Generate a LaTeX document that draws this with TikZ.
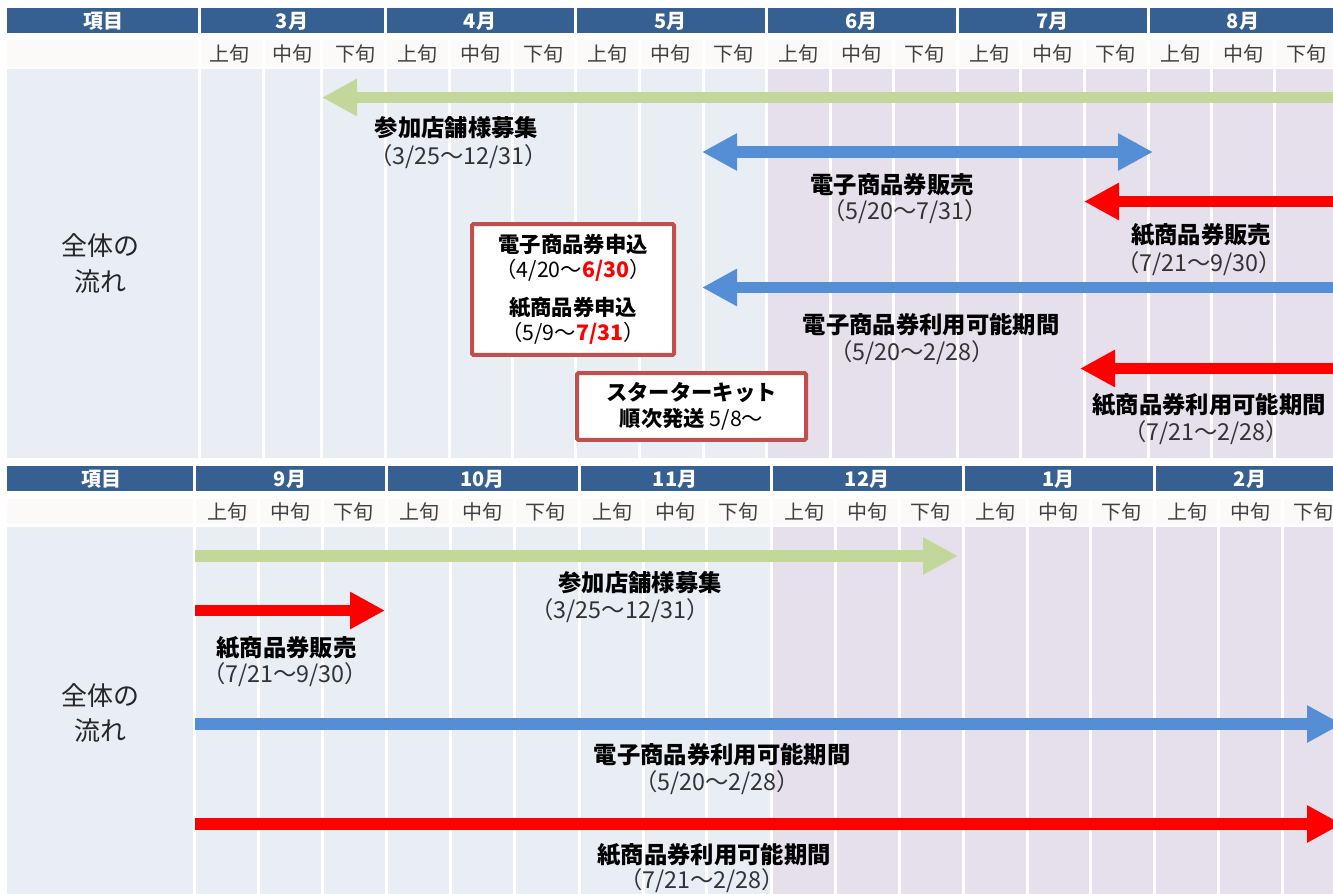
\documentclass[tikz,border=0pt]{standalone}
\usepackage{fontspec}
\setmainfont{Noto Sans CJK JP}
\usepackage{xcolor}
\usetikzlibrary{arrows.meta}

\definecolor{headblue}{HTML}{366092}
\definecolor{subrow}{HTML}{FBFAF8}
\definecolor{bodyblue}{HTML}{E9EDF4}
\definecolor{bodyviolet}{HTML}{E5E0EC}
\definecolor{bargreen}{HTML}{C4D79B}
\definecolor{barblue}{HTML}{558ED5}
\definecolor{barred}{HTML}{FF0000}
\definecolor{boxred}{HTML}{C0504D}
\definecolor{subgray}{HTML}{404040}

\tikzset{
  headtext/.style={text=white, font=\fontsize{15pt}{17pt}\selectfont\bfseries},
  subtext/.style={text=subgray, font=\fontsize{15pt}{17pt}\selectfont},
  rowtext/.style={text=black!85, align=center, font=\fontsize{19.5pt}{26.5pt}\selectfont},
  bartitle/.style={text=black, font=\fontsize{17.5pt}{21pt}\selectfont\bfseries},
  bardate/.style={text=black!80, font=\fontsize{17.5pt}{21pt}\selectfont},
  bar/.style={line width=8.5pt},
  tip/.style={-{Triangle[length=26.25pt,width=26.25pt]}},
  noticebox/.style={draw=boxred, line width=3pt, fill=white, rounded corners=1pt,
    align=center, text=black, font=\fontsize{16pt}{18.75pt}\selectfont},
  sep/.style={white, line width=2.25pt}
}

\begin{document}
\begin{tikzpicture}[x=0.75pt,y=-0.75pt]
  \useasboundingbox (0,0) rectangle (1333,893);
  \clip (0,0) rectangle (1333,893);
  \fill[white] (0,0) rectangle (1333,893);

  % upper table (March - August)
  \fill[headblue] (7,8) rectangle (1345,33);
  \fill[subrow] (7,40) rectangle (1345,67);
  \fill[bodyblue] (7,69) rectangle (766,458);
  \fill[bodyviolet] (766,69) rectangle (1345,458);
  \foreach \x in {199,263,321,385,449,512,575,639,703,766,830,893,957,1020,1084,1148,1211,1274}
    \draw[sep] (\x,40) -- (\x,458);
  \foreach \x in {199,385,575,766,957,1148}
    \draw[sep] (\x,8) -- (\x,40);
  \node[headtext] (topitem) at (103,21) {項目};
  \foreach \m/\cx [count=\i] in {3月/292,4月/480,5月/670.5,6月/861.5,7月/1052.5,8月/1243}{
    \node[headtext] (topmonth\i) at (\cx,21) {\m};
    \node[subtext] (topearly\i) at (\cx-63,54) {上旬};
    \node[subtext] (topmid\i) at (\cx,54) {中旬};
    \node[subtext] (toplate\i) at (\cx+63,54) {下旬};
  }
  \node[rowtext] (topflow) at (100,263.5) {全体の\\流れ};

  \draw[bar, bargreen, tip] (1345,97.5) -- (322,97.5);
  \node[bartitle] (topshop) at (456.5,128) {参加店舗様募集};
  \node[bardate] (topshopdate) at (458.5,157) {（3/25〜12/31）};

  \draw[bar, barblue, {Triangle[length=26.25pt,width=26.25pt]}-{Triangle[length=26.25pt,width=26.25pt]}] (702,152) -- (1153,152);
  \node[bartitle] (ehanbai) at (892,185) {電子商品券販売};
  \node[bardate] (ehanbaidate) at (905,212) {（5/20〜7/31）};

  \draw[bar, barred, tip] (1345,201.5) -- (1084,201.5);
  \node[bartitle] (phanbai) at (1201,235) {紙商品券販売};
  \node[bardate] (phanbaidate) at (1199,264) {（7/21〜9/30）};

  \draw[bar, barblue, tip] (1345,287.5) -- (702,287.5);
  \node[bartitle] (eriyou) at (931,325) {電子商品券利用可能期間};
  \node[bardate] (eriyoudate) at (912,353) {（5/20〜2/28）};

  \draw[bar, barred, tip] (1345,368.5) -- (1080,368.5);
  \node[bartitle] (priyou) at (1209,405) {紙商品券利用可能期間};
  \node[bardate] (priyoudate) at (1206,433) {（7/21〜2/28）};

  \node[noticebox, minimum width=151.5pt, minimum height=98pt] (apply) at (573,289.5)
    {\textbf{電子商品券申込}\\（4/20〜\textbf{\textcolor{barred}{6/30}}）\\[9.75pt]
     \textbf{紙商品券申込}\\（5/9〜\textbf{\textcolor{barred}{7/31}}）};
  \node[noticebox, minimum width=171.75pt, minimum height=50pt, font=\fontsize{16pt}{19.5pt}\selectfont] (kit) at (691.5,406.5)
    {\textbf{スターターキット}\\\textbf{順次発送} 5/8〜};

  % lower table (September - February)
  \fill[headblue] (7,466) rectangle (1345,491);
  \fill[subrow] (7,499) rectangle (1345,524);
  \fill[bodyblue] (7,527) rectangle (771,900);
  \fill[bodyviolet] (771,527) rectangle (1345,900);
  \foreach \x in {194,258,322,386,450,514,579,643,706,771,835,899,963,1027,1090,1154,1218,1282}
    \draw[sep] (\x,499) -- (\x,900);
  \foreach \x in {194,386,579,771,963,1154}
    \draw[sep] (\x,466) -- (\x,499);
  \node[headtext] (botitem) at (101,479) {項目};
  \foreach \m/\cx [count=\i] in {9月/290,10月/482.5,11月/675,12月/867,1月/1058.5,2月/1250}{
    \node[headtext] (botmonth\i) at (\cx,479) {\m};
    \node[subtext] (botearly\i) at (\cx-63,512) {上旬};
    \node[subtext] (botmid\i) at (\cx,512) {中旬};
    \node[subtext] (botlate\i) at (\cx+63,512) {下旬};
  }
  \node[rowtext] (botflow) at (100,713) {全体の\\流れ};

  \draw[bar, bargreen, tip] (195,556) -- (958,556);
  \node[bartitle] (botshop) at (640,583) {参加店舗様募集};
  \node[bardate] (botshopdate) at (620,611) {（3/25〜12/31）};

  \draw[bar, barred, tip] (195,610.5) -- (385,610.5);
  \node[bartitle] (botphanbai) at (286.5,648) {紙商品券販売};
  \node[bardate] (botphanbaidate) at (285,675) {（7/21〜9/30）};

  \draw[bar, barblue, tip] (195,724) -- (1342,724);
  \node[bartitle] (boteriyou) at (722,755) {電子商品券利用可能期間};
  \node[bardate] (boteriyoudate) at (717,783) {（5/20〜2/28）};

  \draw[bar, barred, tip] (195,824) -- (1342,824);
  \node[bartitle] (botpriyou) at (714,855) {紙商品券利用可能期間};
  \node[bardate] (botpriyoudate) at (702,881) {（7/21〜2/28）};
\end{tikzpicture}
\end{document}
